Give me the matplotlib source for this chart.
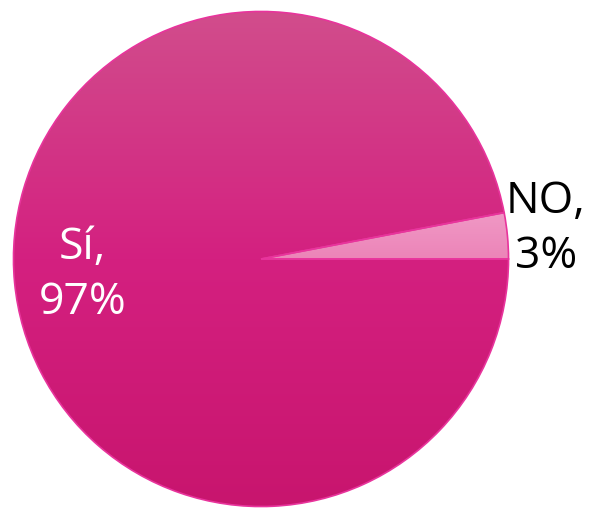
import matplotlib.pyplot as plt
import numpy as np
from matplotlib.colors import LinearSegmentedColormap

# data
categories = ["NO", "Sí"]
values = [3, 97]
colors = ["#ee8dbd", "#d42682"]
label_colors = ["black", "white"]
label_pos = [(1.15, 0.12), (-0.72, -0.065)]

fig = plt.figure(figsize=(5.9, 5.13), dpi=100)
ax = fig.add_axes([11 / 590, 4 / 513, 500 / 590, 500 / 513])

wedges, _ = ax.pie(values, colors=colors, startangle=0, counterclock=True,
                   radius=1, wedgeprops=dict(edgecolor="#e8349c", linewidth=1.2))

# vertical gradient for the big slice
grad = LinearSegmentedColormap.from_list("g", ["#c8156e", "#d42080", "#d14d8c"])
img = ax.imshow(np.linspace(0, 1, 256).reshape(-1, 1), cmap=grad, origin="lower",
                extent=[-1, 1, -1, 1], aspect="auto", zorder=wedges[1].get_zorder() + 0.1)
img.set_clip_path(wedges[1])
# light gradient for the small slice
grad2 = LinearSegmentedColormap.from_list("g2", ["#ec84b8", "#f09ac6"])
img2 = ax.imshow(np.linspace(0, 1, 256).reshape(-1, 1), cmap=grad2, origin="lower",
                 extent=[-1, 1, 0, 0.2], aspect="auto", zorder=wedges[0].get_zorder() + 0.1)
img2.set_clip_path(wedges[0])
for w in wedges:
    w.set_facecolor("none")
    w.set_zorder(5)

for cat, val, col, (x, y) in zip(categories, values, label_colors, label_pos):
    ax.text(x, y, "{},\n{}%".format(cat, val), color=col, fontsize=32,
            family="Open Sans", ha="center", va="center", linespacing=1.3)

ax.set_xlim(-1.01, 1.01)
ax.set_ylim(-1.01, 1.01)
ax.set_aspect("equal")
ax.axis("off")

fig.savefig("out.png", dpi=100)
